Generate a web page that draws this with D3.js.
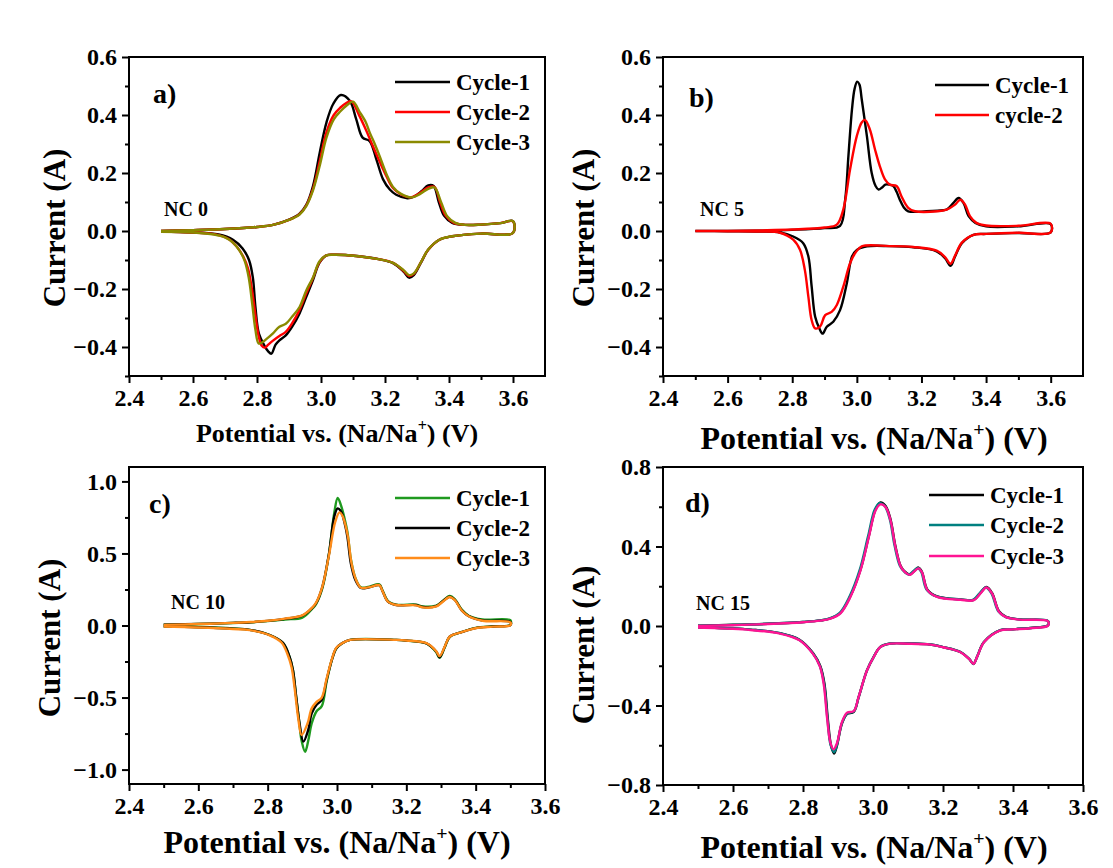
<!DOCTYPE html>
<html>
<head>
<meta charset="utf-8">
<script src="https://cdn.jsdelivr.net/npm/d3@7"></script>
<style>
  body { margin: 0; background: #fff; }
  svg text { font-family: "Liberation Serif", "Times New Roman", serif; font-weight: bold; fill: #000; }
</style>
</head>
<body>
<svg id="chart" width="1113" height="868"></svg>
<script>
/* Cyclic voltammograms, NC 0 / 5 / 10 / 15 */

// ---- data : [potential (V), current (A)], anodic sweep then cathodic sweep ----
var nc0Cycle1 = [[2.50,0.000],[2.60,0.003],[2.70,0.007],[2.80,0.014],[2.85,0.021],[2.90,0.039],[2.933,0.060],[2.954,0.090],[2.975,0.155],[2.996,0.270],[3.017,0.374],[3.038,0.438],[3.062,0.469],[3.09,0.449],[3.11,0.386],[3.13,0.322],[3.152,0.310],[3.173,0.247],[3.194,0.178],[3.215,0.143],[3.235,0.125],[3.27,0.113],[3.29,0.118],[3.315,0.138],[3.335,0.157],[3.352,0.155],[3.368,0.100],[3.385,0.052],[3.41,0.028],[3.45,0.021],[3.50,0.022],[3.56,0.027],[3.60,0.034],
  [3.60,-0.007],[3.50,-0.009],[3.41,-0.018],[3.37,-0.030],[3.335,-0.065],[3.312,-0.110],[3.29,-0.152],[3.275,-0.161],[3.258,-0.140],[3.225,-0.111],[3.18,-0.097],[3.11,-0.086],[3.045,-0.082],[3.017,-0.084],[2.995,-0.110],[2.975,-0.169],[2.954,-0.227],[2.933,-0.284],[2.91,-0.330],[2.89,-0.360],[2.87,-0.377],[2.858,-0.392],[2.845,-0.423],[2.835,-0.415],[2.823,-0.395],[2.806,-0.354],[2.795,-0.261],[2.787,-0.160],[2.775,-0.100],[2.755,-0.060],[2.725,-0.030],[2.68,-0.012],[2.60,-0.005],[2.50,-0.002]];
var nc0Cycle2 = [[2.50,0.000],[2.60,0.003],[2.70,0.007],[2.80,0.014],[2.85,0.021],[2.90,0.038],[2.933,0.058],[2.954,0.088],[2.975,0.145],[2.996,0.240],[3.017,0.340],[3.04,0.400],[3.06,0.425],[3.08,0.442],[3.095,0.447],[3.12,0.397],[3.14,0.350],[3.162,0.293],[3.185,0.235],[3.204,0.190],[3.225,0.148],[3.25,0.126],[3.28,0.116],[3.305,0.128],[3.335,0.150],[3.355,0.152],[3.372,0.100],[3.39,0.052],[3.415,0.028],[3.45,0.021],[3.50,0.022],[3.56,0.027],[3.60,0.033],
  [3.60,-0.007],[3.50,-0.009],[3.41,-0.018],[3.37,-0.030],[3.335,-0.065],[3.312,-0.108],[3.29,-0.148],[3.275,-0.155],[3.258,-0.137],[3.225,-0.110],[3.18,-0.097],[3.11,-0.086],[3.045,-0.082],[3.017,-0.084],[2.995,-0.108],[2.975,-0.162],[2.954,-0.215],[2.933,-0.272],[2.91,-0.318],[2.89,-0.348],[2.87,-0.362],[2.85,-0.378],[2.835,-0.392],[2.825,-0.402],[2.815,-0.396],[2.805,-0.362],[2.795,-0.290],[2.784,-0.200],[2.772,-0.130],[2.757,-0.088],[2.735,-0.052],[2.71,-0.027],[2.666,-0.011],[2.60,-0.005],[2.50,-0.002]];
var nc0Cycle3 = [[2.50,0.000],[2.60,0.003],[2.70,0.007],[2.80,0.014],[2.85,0.021],[2.90,0.038],[2.933,0.057],[2.954,0.086],[2.975,0.140],[2.996,0.225],[3.017,0.322],[3.04,0.385],[3.06,0.412],[3.08,0.433],[3.10,0.446],[3.12,0.412],[3.14,0.375],[3.152,0.340],[3.168,0.300],[3.183,0.259],[3.205,0.195],[3.225,0.152],[3.25,0.128],[3.285,0.116],[3.31,0.128],[3.335,0.145],[3.355,0.150],[3.375,0.100],[3.395,0.050],[3.42,0.028],[3.45,0.021],[3.50,0.022],[3.56,0.027],[3.60,0.034],
  [3.60,-0.007],[3.50,-0.009],[3.41,-0.018],[3.37,-0.030],[3.335,-0.064],[3.312,-0.108],[3.29,-0.146],[3.275,-0.152],[3.258,-0.135],[3.225,-0.110],[3.18,-0.097],[3.11,-0.086],[3.045,-0.082],[3.017,-0.084],[2.995,-0.105],[2.975,-0.160],[2.954,-0.205],[2.933,-0.262],[2.91,-0.295],[2.89,-0.320],[2.87,-0.330],[2.85,-0.353],[2.83,-0.372],[2.815,-0.385],[2.805,-0.388],[2.795,-0.340],[2.785,-0.250],[2.774,-0.160],[2.762,-0.105],[2.747,-0.070],[2.725,-0.040],[2.70,-0.022],[2.666,-0.012],[2.60,-0.005],[2.50,-0.003]];

var nc5Cycle1 = [[2.50,0.000],[2.60,0.000],[2.70,0.001],[2.80,0.004],[2.90,0.010],[2.948,0.018],[2.964,0.110],[2.974,0.260],[2.985,0.420],[2.993,0.490],[3.001,0.515],[3.008,0.505],[3.015,0.455],[3.031,0.328],[3.046,0.200],[3.058,0.155],[3.067,0.143],[3.078,0.150],[3.088,0.160],[3.10,0.160],[3.113,0.155],[3.123,0.135],[3.133,0.108],[3.145,0.082],[3.159,0.068],[3.216,0.068],[3.25,0.070],[3.278,0.074],[3.299,0.097],[3.315,0.114],[3.33,0.097],[3.346,0.051],[3.367,0.028],[3.40,0.016],[3.50,0.016],[3.60,0.024],
  [3.60,-0.005],[3.50,-0.007],[3.40,-0.010],[3.361,-0.013],[3.325,-0.042],[3.304,-0.088],[3.29,-0.120],[3.273,-0.094],[3.247,-0.070],[3.175,-0.056],[3.10,-0.052],[3.031,-0.053],[3.00,-0.065],[2.985,-0.088],[2.969,-0.180],[2.948,-0.273],[2.927,-0.313],[2.907,-0.330],[2.894,-0.354],[2.884,-0.336],[2.871,-0.296],[2.86,-0.190],[2.85,-0.088],[2.834,-0.042],[2.803,-0.019],[2.762,-0.005],[2.70,-0.002],[2.60,-0.001],[2.50,0.000]];
var nc5Cycle2 = [[2.50,0.000],[2.60,0.000],[2.70,0.002],[2.80,0.005],[2.90,0.012],[2.938,0.022],[2.958,0.074],[2.979,0.212],[3.00,0.328],[3.015,0.374],[3.025,0.383],[3.04,0.351],[3.056,0.282],[3.071,0.224],[3.087,0.178],[3.102,0.160],[3.123,0.155],[3.138,0.120],[3.159,0.080],[3.18,0.068],[3.25,0.068],[3.278,0.074],[3.304,0.091],[3.32,0.108],[3.335,0.091],[3.35,0.051],[3.37,0.028],[3.40,0.019],[3.50,0.018],[3.60,0.025],
  [3.60,-0.005],[3.50,-0.006],[3.40,-0.010],[3.361,-0.013],[3.325,-0.040],[3.304,-0.085],[3.29,-0.113],[3.273,-0.090],[3.247,-0.068],[3.175,-0.055],[3.10,-0.052],[3.015,-0.053],[2.995,-0.076],[2.979,-0.111],[2.958,-0.192],[2.938,-0.255],[2.922,-0.279],[2.902,-0.290],[2.886,-0.330],[2.871,-0.336],[2.86,-0.307],[2.85,-0.227],[2.839,-0.134],[2.824,-0.065],[2.803,-0.030],[2.762,-0.006],[2.70,-0.002],[2.60,-0.001],[2.50,0.000]];

var nc10Cycle1 = [[2.50,0.005],[2.60,0.010],[2.70,0.017],[2.75,0.022],[2.80,0.030],[2.85,0.042],[2.90,0.055],[2.93,0.120],[2.94,0.150],[2.958,0.260],[2.977,0.500],[2.992,0.780],[3.002,0.885],[3.012,0.830],[3.022,0.740],[3.03,0.650],[3.04,0.460],[3.053,0.330],[3.069,0.265],[3.093,0.270],[3.122,0.285],[3.132,0.240],[3.147,0.170],[3.171,0.145],[3.228,0.145],[3.247,0.132],[3.286,0.138],[3.305,0.170],[3.325,0.205],[3.34,0.182],[3.36,0.110],[3.38,0.068],[3.42,0.042],[3.50,0.037],
  [3.50,0.005],[3.45,-0.005],[3.40,-0.016],[3.36,-0.045],[3.325,-0.080],[3.311,-0.150],[3.296,-0.225],[3.286,-0.185],[3.258,-0.125],[3.20,-0.105],[3.171,-0.100],[3.038,-0.100],[3.014,-0.125],[2.998,-0.160],[2.985,-0.240],[2.97,-0.390],[2.956,-0.560],[2.941,-0.595],[2.927,-0.680],[2.917,-0.800],[2.908,-0.876],[2.898,-0.800],[2.892,-0.690],[2.882,-0.490],[2.873,-0.310],[2.863,-0.216],[2.844,-0.120],[2.806,-0.066],[2.748,-0.030],[2.70,-0.020],[2.60,-0.010],[2.50,-0.005]];
var nc10Cycle2 = [[2.50,0.005],[2.60,0.011],[2.70,0.018],[2.75,0.023],[2.80,0.032],[2.85,0.046],[2.90,0.068],[2.93,0.125],[2.94,0.156],[2.958,0.270],[2.977,0.500],[2.992,0.755],[3.002,0.813],[3.012,0.790],[3.022,0.710],[3.03,0.616],[3.04,0.430],[3.053,0.316],[3.069,0.260],[3.093,0.265],[3.122,0.280],[3.132,0.235],[3.147,0.165],[3.171,0.142],[3.228,0.142],[3.247,0.128],[3.286,0.135],[3.305,0.168],[3.325,0.200],[3.34,0.178],[3.36,0.105],[3.38,0.065],[3.42,0.035],[3.50,0.025],
  [3.50,0.003],[3.45,-0.007],[3.40,-0.018],[3.36,-0.046],[3.325,-0.078],[3.311,-0.147],[3.296,-0.220],[3.286,-0.180],[3.258,-0.124],[3.20,-0.104],[3.171,-0.100],[3.038,-0.100],[3.014,-0.124],[2.998,-0.158],[2.985,-0.240],[2.97,-0.378],[2.956,-0.517],[2.941,-0.550],[2.927,-0.610],[2.917,-0.725],[2.903,-0.806],[2.892,-0.680],[2.882,-0.490],[2.873,-0.310],[2.863,-0.216],[2.844,-0.120],[2.806,-0.066],[2.748,-0.030],[2.70,-0.022],[2.60,-0.012],[2.50,-0.006]];
var nc10Cycle3 = [[2.50,0.004],[2.60,0.010],[2.70,0.018],[2.75,0.024],[2.80,0.033],[2.85,0.048],[2.90,0.070],[2.93,0.128],[2.94,0.160],[2.958,0.272],[2.977,0.490],[2.995,0.720],[3.007,0.785],[3.015,0.765],[3.024,0.700],[3.032,0.610],[3.042,0.430],[3.055,0.316],[3.069,0.262],[3.093,0.266],[3.122,0.280],[3.132,0.235],[3.147,0.165],[3.171,0.142],[3.228,0.140],[3.247,0.126],[3.286,0.132],[3.305,0.165],[3.325,0.198],[3.34,0.176],[3.36,0.104],[3.38,0.064],[3.42,0.033],[3.50,0.022],
  [3.50,0.002],[3.45,-0.008],[3.40,-0.019],[3.36,-0.046],[3.325,-0.078],[3.311,-0.145],[3.296,-0.212],[3.286,-0.178],[3.258,-0.123],[3.20,-0.104],[3.171,-0.100],[3.038,-0.100],[3.014,-0.124],[2.998,-0.155],[2.985,-0.235],[2.97,-0.370],[2.956,-0.500],[2.941,-0.530],[2.927,-0.575],[2.915,-0.680],[2.898,-0.760],[2.888,-0.640],[2.878,-0.440],[2.869,-0.290],[2.858,-0.205],[2.84,-0.118],[2.806,-0.068],[2.748,-0.032],[2.70,-0.024],[2.60,-0.014],[2.50,-0.008]];

var nc15Cycle1 = [[2.50,0.002],[2.60,0.006],[2.70,0.011],[2.80,0.020],[2.85,0.028],[2.878,0.038],[2.907,0.066],[2.935,0.148],[2.964,0.282],[2.988,0.452],[3.007,0.586],[3.021,0.622],[3.036,0.604],[3.05,0.537],[3.064,0.402],[3.079,0.302],[3.092,0.272],[3.105,0.259],[3.118,0.277],[3.13,0.294],[3.14,0.272],[3.155,0.184],[3.183,0.149],[3.25,0.134],[3.288,0.132],[3.307,0.166],[3.324,0.196],[3.34,0.166],[3.36,0.074],[3.38,0.046],[3.42,0.033],[3.50,0.025],
  [3.50,0.004],[3.45,-0.010],[3.40,-0.016],[3.364,-0.021],[3.317,-0.081],[3.298,-0.152],[3.287,-0.192],[3.275,-0.166],[3.25,-0.131],[3.20,-0.106],[3.164,-0.093],[3.10,-0.088],[3.05,-0.088],[3.021,-0.105],[3.002,-0.155],[2.983,-0.222],[2.959,-0.358],[2.945,-0.432],[2.926,-0.442],[2.911,-0.492],[2.897,-0.602],[2.889,-0.642],[2.88,-0.600],[2.871,-0.470],[2.861,-0.288],[2.849,-0.200],[2.829,-0.137],[2.791,-0.070],[2.734,-0.036],[2.65,-0.018],[2.60,-0.012],[2.50,-0.006]];
var nc15Cycle2 = [[2.50,0.001],[2.60,0.005],[2.70,0.011],[2.80,0.020],[2.85,0.028],[2.876,0.038],[2.905,0.066],[2.933,0.148],[2.962,0.282],[2.986,0.452],[3.005,0.586],[3.019,0.618],[3.034,0.602],[3.048,0.537],[3.062,0.402],[3.077,0.302],[3.09,0.272],[3.103,0.259],[3.116,0.277],[3.128,0.292],[3.138,0.272],[3.153,0.184],[3.181,0.149],[3.25,0.134],[3.286,0.132],[3.305,0.166],[3.322,0.194],[3.338,0.166],[3.358,0.074],[3.378,0.046],[3.42,0.033],[3.50,0.025],
  [3.50,0.003],[3.45,-0.010],[3.40,-0.016],[3.364,-0.021],[3.317,-0.081],[3.298,-0.152],[3.287,-0.190],[3.275,-0.166],[3.25,-0.131],[3.20,-0.106],[3.164,-0.093],[3.10,-0.088],[3.05,-0.088],[3.021,-0.105],[3.002,-0.155],[2.983,-0.222],[2.959,-0.358],[2.945,-0.430],[2.926,-0.440],[2.911,-0.490],[2.897,-0.598],[2.889,-0.635],[2.879,-0.600],[2.87,-0.470],[2.86,-0.288],[2.848,-0.200],[2.828,-0.137],[2.79,-0.070],[2.734,-0.036],[2.65,-0.018],[2.60,-0.012],[2.50,-0.006]];
var nc15Cycle3 = [[2.50,0.000],[2.60,0.004],[2.70,0.010],[2.80,0.019],[2.85,0.027],[2.878,0.037],[2.907,0.064],[2.935,0.145],[2.964,0.278],[2.988,0.448],[3.007,0.580],[3.021,0.612],[3.036,0.598],[3.05,0.532],[3.064,0.398],[3.079,0.300],[3.092,0.270],[3.105,0.257],[3.118,0.275],[3.13,0.290],[3.14,0.270],[3.155,0.182],[3.183,0.147],[3.25,0.132],[3.288,0.130],[3.307,0.164],[3.324,0.194],[3.34,0.164],[3.36,0.072],[3.38,0.045],[3.42,0.032],[3.50,0.024],
  [3.50,0.002],[3.45,-0.011],[3.40,-0.017],[3.364,-0.022],[3.317,-0.082],[3.298,-0.153],[3.287,-0.190],[3.275,-0.167],[3.25,-0.132],[3.20,-0.107],[3.164,-0.094],[3.10,-0.089],[3.05,-0.089],[3.021,-0.106],[3.002,-0.156],[2.983,-0.223],[2.959,-0.356],[2.945,-0.428],[2.926,-0.436],[2.911,-0.485],[2.897,-0.590],[2.887,-0.620],[2.878,-0.585],[2.869,-0.465],[2.859,-0.290],[2.848,-0.202],[2.828,-0.139],[2.79,-0.072],[2.734,-0.038],[2.65,-0.020],[2.60,-0.014],[2.50,-0.008]];

// ---- axis ticks and labels ----
var xTicks = [2.4, 2.6, 2.8, 3.0, 3.2, 3.4, 3.6];
var xMinor = [2.5, 2.7, 2.9, 3.1, 3.3, 3.5];
var yTicksAB = [-0.4, -0.2, 0.0, 0.2, 0.4, 0.6];
var yMinorAB = [-0.5, -0.3, -0.1, 0.1, 0.3, 0.5];
var yTicksC = [-1.0, -0.5, 0.0, 0.5, 1.0];
var yMinorC = [-0.75, -0.25, 0.25, 0.75];
var yTicksD = [-0.8, -0.4, 0.0, 0.4, 0.8];
var yMinorD = [-0.6, -0.2, 0.2, 0.6];
var namesThree = ["Cycle-1", "Cycle-2", "Cycle-3"];
var namesTwo = ["Cycle-1", "cycle-2"];

var panels = [
  { tag: "a)", sample: "NC 0", left: 129, right: 545, top: 57, bottom: 376,
    xDomain: [2.4, 3.7], yDomain: [-0.5, 0.6], yTicks: yTicksAB, yMinor: yMinorAB,
    series: [nc0Cycle1, nc0Cycle2, nc0Cycle3], names: namesThree,
    colors: ["#000000", "#ff0000", "#8a8a00"],
    tagPos: [153, 103], samplePos: [164, 216], xTitle: [337, 442, 26], yTitle: [54, 228],
    legend: { x1: 395, x2: 450, tx: 456, ys: [82, 112, 142] } },
  { tag: "b)", sample: "NC 5", left: 663, right: 1083, top: 57, bottom: 376,
    xDomain: [2.4, 3.7], yDomain: [-0.5, 0.6], yTicks: yTicksAB, yMinor: yMinorAB,
    series: [nc5Cycle1, nc5Cycle2], names: namesTwo,
    colors: ["#000000", "#ff0000"],
    tagPos: [689, 107], samplePos: [700, 216], xTitle: [874, 449, 32], yTitle: [583, 228],
    legend: { x1: 935, x2: 989, tx: 995, ys: [85, 115] } },
  { tag: "c)", sample: "NC 10", left: 129, right: 545, top: 467, bottom: 784,
    xDomain: [2.4, 3.6], yDomain: [-1.1, 1.1], yTicks: yTicksC, yMinor: yMinorC,
    series: [nc10Cycle1, nc10Cycle2, nc10Cycle3], names: namesThree,
    colors: ["#1f9a1f", "#000000", "#ff8c1a"],
    tagPos: [149, 513], samplePos: [171, 609], xTitle: [337, 853, 32], yTitle: [49, 638],
    legend: { x1: 395, x2: 450, tx: 456, ys: [498, 528, 558] } },
  { tag: "d)", sample: "NC 15", left: 663, right: 1083, top: 467, bottom: 785,
    xDomain: [2.4, 3.6], yDomain: [-0.8, 0.8], yTicks: yTicksD, yMinor: yMinorD,
    series: [nc15Cycle1, nc15Cycle2, nc15Cycle3], names: namesThree,
    colors: ["#000000", "#008080", "#ff1493"],
    tagPos: [685, 512], samplePos: [696, 610], xTitle: [874, 858, 32], yTitle: [583, 645],
    legend: { x1: 929, x2: 984, tx: 990, ys: [495, 525, 556] } }
];

var svg = d3.select("#chart");
svg.append("rect").attr("width", 1113).attr("height", 868).attr("fill", "#fff");

function styleTicks(sel, size) {
    sel.select(".domain").remove();
    sel.selectAll("line").attr("stroke", "#000").attr("stroke-width", 2);
    sel.selectAll("text").style("font-size", size + "px").attr("fill", "#000");
}

panels.forEach(function(p) {
    var x = d3.scaleLinear().domain(p.xDomain).range([p.left, p.right]);
    var y = d3.scaleLinear().domain(p.yDomain).range([p.bottom, p.top]);
    var g = svg.append("g");

    var line = d3.line()
        .x(function(d) { return x(d[0]); })
        .y(function(d) { return y(d[1]); })
        .curve(d3.curveCatmullRom.alpha(0.5));

    p.series.forEach(function(s, i) {
        g.append("path")
            .attr("d", line(s))
            .attr("fill", "none")
            .attr("stroke", p.colors[i])
            .attr("stroke-width", 2.4)
            .attr("stroke-linejoin", "round");
    });

    // axes
    g.append("g")
        .attr("transform", "translate(0," + p.bottom + ")")
        .call(d3.axisBottom(x).tickValues(xTicks).tickSize(7).tickPadding(6)
            .tickFormat(d3.format(".1f")))
        .call(styleTicks, 24);
    g.append("g")
        .attr("transform", "translate(0," + p.bottom + ")")
        .call(d3.axisBottom(x).tickValues(xMinor).tickSize(4).tickFormat(""))
        .call(styleTicks, 24);
    g.append("g")
        .attr("transform", "translate(" + p.left + ",0)")
        .call(d3.axisLeft(y).tickValues(p.yTicks).tickSize(7).tickPadding(5)
            .tickFormat(d3.format(".1f")))
        .call(styleTicks, 24);
    g.append("g")
        .attr("transform", "translate(" + p.left + ",0)")
        .call(d3.axisLeft(y).tickValues(p.yMinor).tickSize(4).tickFormat(""))
        .call(styleTicks, 24);

    g.append("rect")
        .attr("x", p.left).attr("y", p.top)
        .attr("width", p.right - p.left).attr("height", p.bottom - p.top)
        .attr("fill", "none").attr("stroke", "#000").attr("stroke-width", 2);

    // titles
    g.append("text")
        .attr("transform", "translate(" + p.yTitle[0] + "," + p.yTitle[1] + ") rotate(-90)")
        .attr("text-anchor", "middle").attr("dy", "0.35em")
        .style("font-size", "31px")
        .text("Current (A)");

    var fs = p.xTitle[2];
    var xt = g.append("text")
        .attr("x", p.xTitle[0]).attr("y", p.xTitle[1])
        .attr("text-anchor", "middle")
        .style("font-size", fs + "px");
    xt.append("tspan").text("Potential vs. (Na/Na");
    xt.append("tspan").attr("dy", -0.42 * fs).style("font-size", (0.62 * fs) + "px").text("+");
    xt.append("tspan").attr("dy", 0.42 * fs).text(") (V)");

    g.append("text").attr("x", p.tagPos[0]).attr("y", p.tagPos[1])
        .style("font-size", "28px").text(p.tag);
    g.append("text").attr("x", p.samplePos[0]).attr("y", p.samplePos[1])
        .style("font-size", "20px").text(p.sample);

    // legend
    p.names.forEach(function(n, i) {
        var ly = p.legend.ys[i];
        g.append("line")
            .attr("x1", p.legend.x1).attr("x2", p.legend.x2)
            .attr("y1", ly).attr("y2", ly)
            .attr("stroke", p.colors[i]).attr("stroke-width", 2.6);
        g.append("text").attr("x", p.legend.tx).attr("y", ly + 8)
            .style("font-size", "23px").text(n);
    });
});
</script>
</body>
</html>
